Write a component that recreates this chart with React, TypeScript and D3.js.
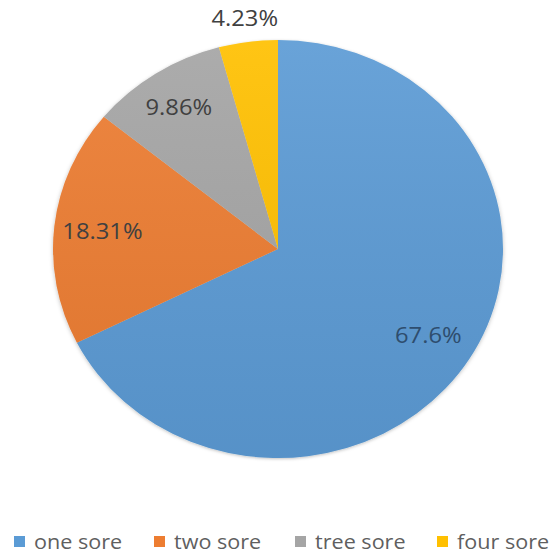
import React, { useEffect, useRef } from 'react'
import * as d3 from 'd3'

const categories = ['one sore', 'two sore', 'tree sore', 'four sore']
const values = [67.6, 18.31, 9.86, 4.23]
const labels = ['67.6%', '18.31%', '9.86%', '4.23%']
const colors = ['#5b9bd5', '#ed7d31', '#a5a5a5', '#ffc000']

const App = () => {
  const refSvg = useRef<SVGSVGElement>(null)

  const draw = () => {
    const width = 553
    const height = 554
    const r = 225
    const squash = 209 / 225
    const stretch = 1.08
    const cx = 278
    const cy = 249

    const svg = d3.select(refSvg.current).attr('width', width).attr('height', height)
    svg.selectAll('*').remove()

    const defs = svg.append('defs')
    const filter = defs.append('filter').attr('id', 'shadow').attr('x', '-10%').attr('y', '-10%').attr('width', '120%').attr('height', '120%')
    filter.append('feDropShadow').attr('dx', 0).attr('dy', 1).attr('stdDeviation', 2).attr('flood-color', '#000').attr('flood-opacity', 0.25)

    const shade = defs.append('linearGradient').attr('id', 'shade').attr('x1', 0).attr('y1', 0).attr('x2', 0).attr('y2', 1)
    shade.append('stop').attr('offset', '0%').attr('stop-color', '#fff').attr('stop-opacity', 0.08)
    shade.append('stop').attr('offset', '100%').attr('stop-color', '#000').attr('stop-opacity', 0.06)

    const pie = d3.pie<number>().sort(null).value((d) => d)
    const arcs = pie(values)
    const arc = d3.arc<d3.PieArcDatum<number>>().innerRadius(0).outerRadius(r)

    const g = svg.append('g').attr('transform', `translate(${cx},${cy}) scale(1,${squash})`)
    const slices = g.append('g').attr('filter', 'url(#shadow)')
    slices
      .selectAll('path')
      .data(arcs)
      .enter()
      .append('path')
      .attr('d', arc)
      .attr('fill', (d, i) => colors[i])
      .attr('stroke', 'none')
    g.append('circle').attr('r', r).attr('fill', 'url(#shade)')

    // label radius: inside for big slices, outside for the tiny one
    const labelPos = (d: d3.PieArcDatum<number>, i: number) => {
      const f = i === 0 ? 0.785 : d.endAngle - d.startAngle < 0.3 ? 1.115 : i === 1 ? 0.785 : 0.81
      const a = (d.startAngle + d.endAngle) / 2
      return [cx + Math.sin(a) * r * f, cy - Math.cos(a) * r * f * squash]
    }

    svg
      .append('g')
      .selectAll('text')
      .data(arcs)
      .enter()
      .append('text')
      .attr('transform', (d, i) => {
        const [x, y] = labelPos(d, i)
        return `translate(${x},${y}) scale(${stretch},1)`
      })
      .attr('text-anchor', 'middle')
      .attr('dominant-baseline', 'central')
      .style('font-family', '"Open Sans", sans-serif')
      .style('font-size', '22px')
      .style('fill', (d, i) => (i === 0 ? '#2e4d6e' : '#404040'))
      .text((d, i) => labels[i])

    const legendX = d3.scaleOrdinal<string, number>().domain(categories).range([14, 154, 295, 437])
    const legend = svg.append('g').selectAll('g').data(categories).enter().append('g').attr('transform', (d) => `translate(${legendX(d)},541)`)
    legend.append('rect').attr('x', 0).attr('y', -5).attr('width', 11).attr('height', 11).attr('fill', (d, i) => colors[i])
    legend
      .append('text')
      .attr('transform', `translate(20,0) scale(${stretch},1)`)
      .attr('dominant-baseline', 'central')
      .style('font-family', '"Open Sans", sans-serif')
      .style('font-size', '20px')
      .style('fill', '#5f5f5f')
      .text((d) => d)
  }

  useEffect(() => {
    document.body.style.margin = '0'
    if (refSvg) {
      draw()
    }
  })

  return <svg ref={refSvg} style={{ display: 'block' }} />
}

export default App
